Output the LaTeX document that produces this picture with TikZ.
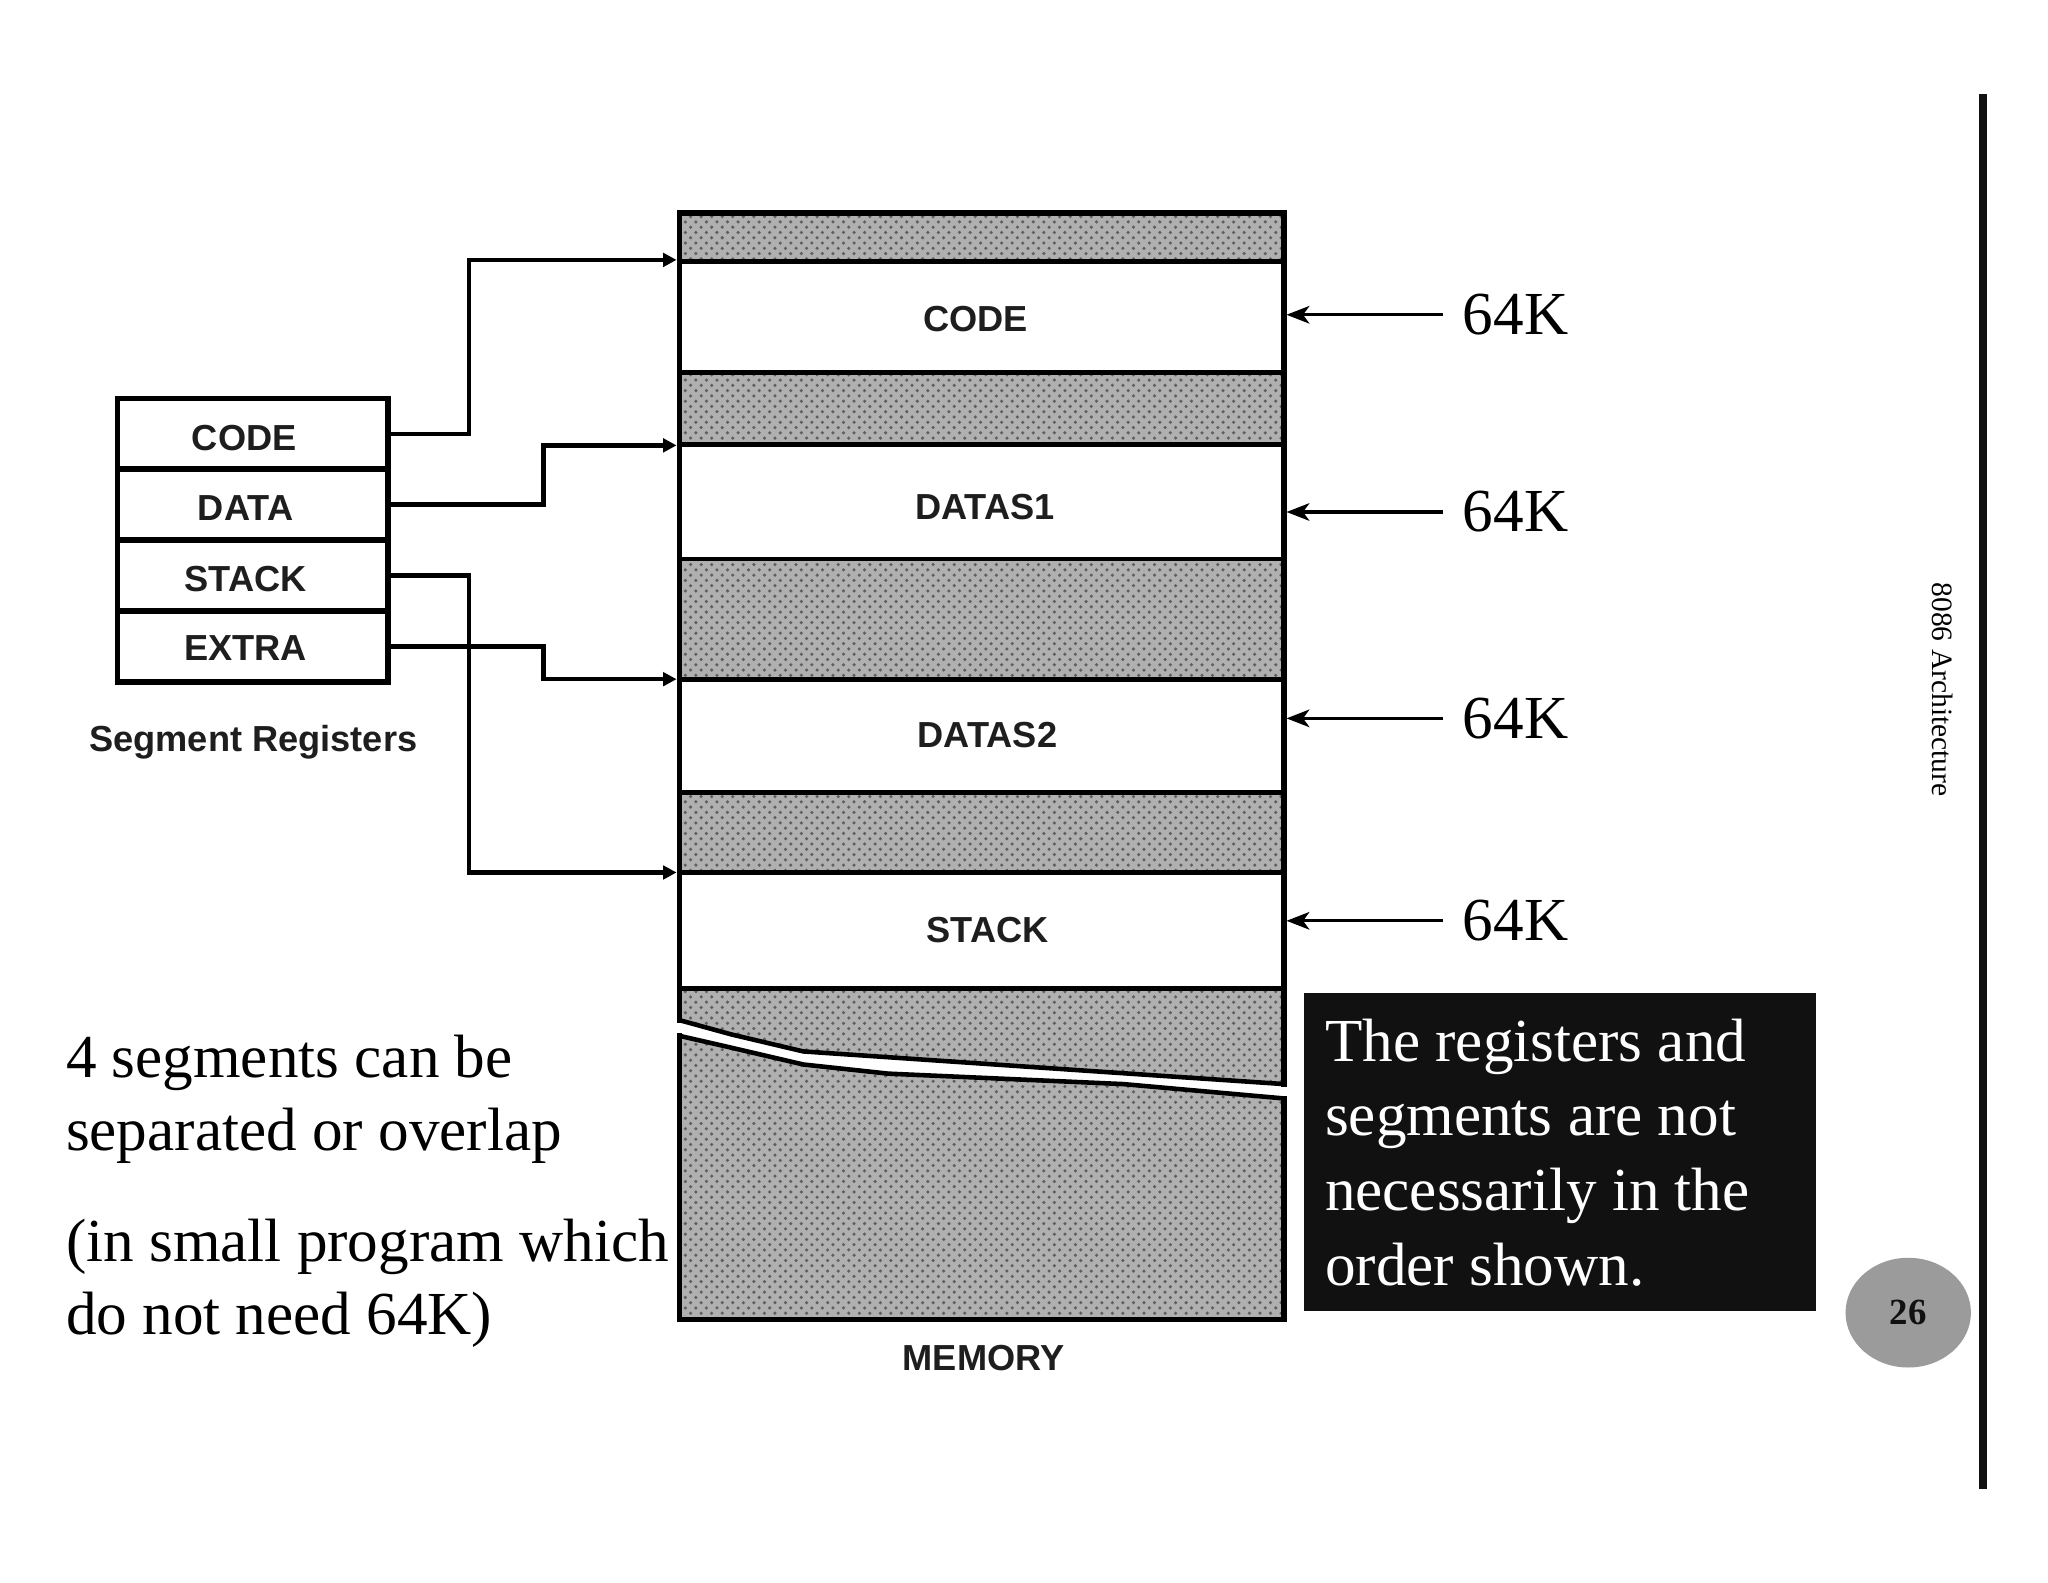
\documentclass[tikz,border=0pt]{standalone}
\usepackage{fontspec}
\setmainfont{Liberation Serif}
\setsansfont{Liberation Sans}
\usetikzlibrary{arrows.meta,patterns,shapes.geometric}
\definecolor{memgray}{RGB}{176,176,176}
\definecolor{dotgray}{RGB}{95,95,95}
\definecolor{boxblack}{RGB}{17,17,17}
\definecolor{circgray}{RGB}{155,155,155}
\definecolor{labelgray}{RGB}{30,30,30}
\tikzset{
  lbl/.style={font=\sffamily\bfseries\fontsize{10.3pt}{12pt}\selectfont, text=labelgray, inner sep=0pt},
  bigtext/.style={font=\fontsize{17.4pt}{20.8pt}\selectfont, inner sep=0pt, anchor=base west},
  grayband/.style={preaction={fill=memgray}, pattern=crosshatch dots, pattern color=dotgray},
  whiteband/.style={fill=white, draw=black, line width=1.4pt},
  memline/.style={line width=1.5pt, line cap=rect},
  regcell/.style={draw=black, line width=1.6pt, fill=white, minimum width=2.7034cm, minimum height=0.7085cm, inner sep=0pt},
  conn/.style={line width=1.25pt, -{Triangle[length=3.8pt,width=3.8pt]}},
  kline/.style={line width=0.9pt, -{Stealth[length=6.5pt,width=5pt,inset=1.8pt]}},
  ktext/.style={font=\fontsize{17.4pt}{20.8pt}\selectfont, anchor=west, inner xsep=0.19cm, inner ysep=0pt},
  breakline/.style={line width=1.3pt},
}
\begin{document}
\begin{tikzpicture}[x=0.01306cm,y=-0.01306cm]
\useasboundingbox (0,0) rectangle (1568,1211.3);
\fill[white] (0,0) rectangle (1568,1211.3);

% ---------- memory column ----------
\path[grayband] (520,163) rectangle (983,200);
\path[grayband] (520,285) rectangle (983,340);
\path[grayband] (520,428) rectangle (983,520);
\path[grayband] (520,607) rectangle (983,668);
\path[grayband] (520,757) rectangle (983,1010);

\path[whiteband] (520,200) rectangle (983,285);
\path[whiteband] (520,340) rectangle (983,428);
\path[whiteband] (520,520) rectangle (983,607);
\path[whiteband] (520,668) rectangle (983,757);

% break in the memory
\fill[white] (515,781) -- (560,792) -- (615,805) -- (835,820) -- (988,830)
  -- (988,841) -- (860,830) -- (680,822) -- (615,815) -- (555,801) -- (515,793) -- cycle;
\draw[breakline] (520,781) -- (560,792) -- (615,805) -- (835,820) -- (983,830);
\draw[breakline] (520,793) -- (555,801) -- (615,815) -- (680,822) -- (860,830) -- (983,841);

% outer border
\draw[memline] (520,781) -- (520,163) -- (983,163) -- (983,830);
\draw[memline] (520,793) -- (520,1010) -- (983,1010) -- (983,841);

% memory labels
\node[lbl] (mcode)  at (747,244) {CODE};
\node[lbl] (mdata1) at (754,388) {DATAS1};
\node[lbl] (mdata2) at (756,563) {DATAS2};
\node[lbl] (mstack) at (756,712) {STACK};
\node[lbl] (mmem)   at (753,1040) {MEMORY};

% connector targets on the left edge of memory
\coordinate (inCode)  at (518,199);
\coordinate (inData)  at (518,341);
\coordinate (inExtra) at (518,520);
\coordinate (inStack) at (518,668);

% ---------- segment registers ----------
\node[regcell] (rcode)  at (193.5,332.1) {};
\node[regcell] (rdata)  at (193.5,386.4) {};
\node[regcell] (rstack) at (193.5,440.6) {};
\node[regcell] (rextra) at (193.5,494.9) {};
\node[lbl] (tcode)  at (187,335) {CODE};
\node[lbl] (tdata)  at (188,389) {DATA};
\node[lbl] (tstack) at (188,443.5) {STACK};
\node[lbl] (textra) at (188,496) {EXTRA};
\node[lbl] (segreg) at (194,568) {Segment Registers};

\draw[conn] (rcode.east)  -- ++(60,0)  |- (inCode);
\draw[conn] (rdata.east)  -- ++(117,0) |- (inData);
\draw[conn] (rstack.east) -- ++(60,0)  |- (inStack);
\draw[conn] (rextra.east) -- ++(117,0) |- (inExtra);

% ---------- 64K markers ----------
\coordinate (e1) at (985,241);
\coordinate (e2) at (985,392);
\coordinate (e3) at (985,550);
\coordinate (e4) at (985,705);
\node[ktext] (k1) at (1105,241) {64K};
\node[ktext] (k2) at (1105,392) {64K};
\node[ktext] (k3) at (1105,550) {64K};
\node[ktext] (k4) at (1105,705) {64K};
\draw[kline] (k1.west) -- (e1);
\draw[kline] (k2.west) -- (e2);
\draw[kline] (k3.west) -- (e3);
\draw[kline] (k4.west) -- (e4);

% ---------- left text ----------
\node[bigtext] (l1) at (50,825)  {4 segments can be};
\node[bigtext] (l2) at (50,881)  {separated or overlap};
\node[bigtext] (l3) at (50,966)  {(in small program which};
\node[bigtext] (l4) at (50,1022) {do not need 64K)};

% ---------- black note ----------
\fill[boxblack] (998,760) rectangle (1390,1004);
\node[bigtext, text=white] (n1) at (1014,813)   {The registers and};
\node[bigtext, text=white] (n2) at (1014,869)   {segments are not};
\node[bigtext, text=white] (n3) at (1014,926.5) {necessarily in the};
\node[bigtext, text=white] (n4) at (1014,984)   {order shown.};

% ---------- slide furniture ----------
\draw[line width=2.2pt, boxblack] (1518,72) -- (1518,1140);
\node[rotate=-90, font=\fontsize{8.4pt}{10pt}\selectfont, inner sep=0pt] (side) at (1487,528) {8086 Architecture};
\node[ellipse, fill=circgray, minimum width=1.2538cm, minimum height=1.097cm, inner sep=0pt,
      font=\bfseries\fontsize{10.5pt}{12pt}\selectfont, text=boxblack] (pg) at (1461,1005) {26};
\end{tikzpicture}
\end{document}
